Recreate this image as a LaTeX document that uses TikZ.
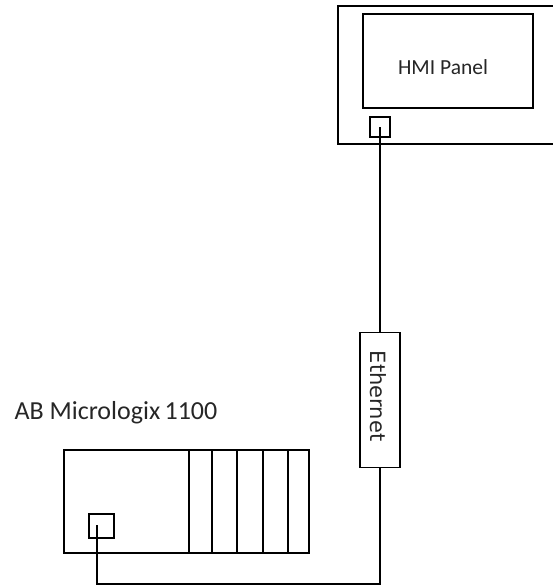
\documentclass[tikz,border=0pt]{standalone}
\usepackage{fontspec}
\setmainfont{Carlito}
\newfontfamily\ethfont{DejaVu Sans}
\usetikzlibrary{positioning,calc}

\begin{document}
\begin{tikzpicture}[x=1pt, y=-1pt,
    every node/.style={text=black!85},
    box/.style={draw, line width=1.8pt, inner sep=0pt},
    port/.style={draw, line width=1.5pt, inner sep=0pt},
    cable/.style={line width=2.6pt}]
  \useasboundingbox (0,0) rectangle (553,586);
  \clip (0,0) rectangle (553,586);
  % HMI side
  \node[box, minimum width=222pt, minimum height=138pt] (hmi) at (449,75) {};
  \node[box, minimum width=170pt, minimum height=94pt] (screen) at (448,61) {};
  \node[font=\fontsize{21.5}{24}\selectfont] (hmilbl) at (443,67) {HMI Panel};
  \node[port, minimum size=20pt] (hmiport) at (380,127) {};
  \coordinate (hmijack) at (380,127);
  % cable label
  \node[box, minimum width=40pt, minimum height=135pt] (eth) at (380,400) {};
  \node[rotate=-90, font=\ethfont\fontsize{21}{24}\selectfont] (ethlbl) at (378,396) {Ethernet};
  % PLC side
  \node[anchor=base west, font=\fontsize{26}{30}\selectfont] (plclbl) at (11,419) {AB Micrologix\,1100};
  \node[box, minimum width=245pt, minimum height=103pt] (plc) at (186.5,501.5) {};
  \foreach \x in {189,212,237,263,288}
    \draw[line width=1.8pt] (\x,0 |- plc.north) -- (\x,0 |- plc.south);
  \node[port, minimum width=25pt, minimum height=24pt] (plcport) at (101.5,526) {};
  \coordinate (plcjack) at (97,525);
  \coordinate (bend) at (380,584);
  % wiring
  \draw[cable] (hmijack) -- (eth.north);
  \draw[cable] (eth.south) -- (bend) -| (plcjack);
\end{tikzpicture}
\end{document}
